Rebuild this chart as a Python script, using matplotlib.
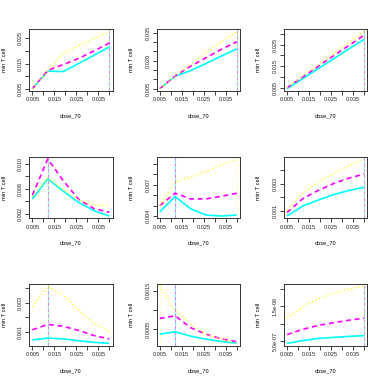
import matplotlib
matplotlib.use("Agg")
import matplotlib.pyplot as plt
import numpy as np

plt.rcParams['font.family'] = ['Liberation Sans', 'DejaVu Sans']

doses = [0.005, 0.012, 0.019, 0.026, 0.033, 0.040]
x_ticks = [0.005, 0.010, 0.015, 0.020, 0.025, 0.030, 0.035, 0.040]
x_tick_labels = ["0.005", "", "0.015", "", "0.025", "", "0.035", ""]

# panel data: solid cyan, dashed magenta, dotted yellow
p1_solid  = [0.0050, 0.0120, 0.0118, 0.0150, 0.0183, 0.0216]
p1_dashed = [0.0050, 0.0123, 0.0146, 0.0170, 0.0200, 0.0232]
p1_dotted = [0.0050, 0.0120, 0.0190, 0.0220, 0.0250, 0.0277]

p2_solid  = [0.0050, 0.0117, 0.0146, 0.0185, 0.0224, 0.0263]
p2_dashed = [0.0050, 0.0118, 0.0170, 0.0215, 0.0260, 0.0301]
p2_dotted = [0.0050, 0.0118, 0.0180, 0.0241, 0.0300, 0.0355]

p3_solid  = [0.0045, 0.0091, 0.0137, 0.0183, 0.0229, 0.0274]
p3_dashed = [0.0050, 0.0099, 0.0148, 0.0197, 0.0245, 0.0293]
p3_dotted = [0.0051, 0.0103, 0.0155, 0.0207, 0.0258, 0.0310]

p4_solid  = [0.00435, 0.0076, 0.0056, 0.0038, 0.00245, 0.0016]
p4_dashed = [0.00497, 0.0108, 0.0073, 0.0043, 0.0028, 0.0022]
p4_dotted = [0.0048, 0.0077, 0.0059, 0.0042, 0.0034, 0.0032]

p5_solid  = [0.0044, 0.00588, 0.0047, 0.0041, 0.0040, 0.0041]
p5_dashed = [0.0050, 0.0062, 0.00565, 0.00565, 0.0059, 0.0062]
p5_dotted = [0.0050, 0.0073, 0.0077, 0.0083, 0.0089, 0.0095]

p6_solid  = [0.00065, 0.00137, 0.0018, 0.0022, 0.0025, 0.00274]
p6_dashed = [0.0009, 0.0019, 0.0025, 0.0030, 0.0034, 0.0037]
p6_dotted = [0.00107, 0.0023, 0.0031, 0.0037, 0.0043, 0.0048]

p7_solid  = [0.00047, 0.00060, 0.00054, 0.00042, 0.00031, 0.00024]
p7_dashed = [0.00116, 0.00153, 0.00140, 0.00112, 0.00077, 0.00054]
p7_dotted = [0.00273, 0.00412, 0.00354, 0.00250, 0.00158, 0.00105]

p8_solid  = [0.00037, 0.00043, 0.00032, 0.00024, 0.00018, 0.00013]
p8_dashed = [0.00078, 0.00085, 0.00054, 0.00037, 0.00025, 0.00017]
p8_dotted = [0.00162, 0.00099, 0.00063, 0.00037, 0.00024, 0.00013]

p9_solid  = [4.4e-07, 5.2e-07, 5.8e-07, 6.1e-07, 6.4e-07, 6.6e-07]
p9_dashed = [6.9e-07, 8.4e-07, 9.5e-07, 1.03e-06, 1.10e-06, 1.16e-06]
p9_dotted = [1.16e-06, 1.48e-06, 1.70e-06, 1.87e-06, 1.99e-06, 2.07e-06]

# y ticks and labels per panel
p1_yticks = [0.005, 0.010, 0.015, 0.020, 0.025]
p1_ylabels = ["0.005", "", "0.015", "", "0.025"]
p2_yticks = [0.005, 0.010, 0.015, 0.020, 0.025, 0.030, 0.035]
p2_ylabels = ["0.005", "", "", "0.020", "", "", "0.035"]
p3_yticks = [0.005, 0.010, 0.015, 0.020, 0.025, 0.030]
p3_ylabels = ["0.005", "", "0.015", "", "0.025", ""]
p4_yticks = [0.002, 0.004, 0.006, 0.008, 0.010]
p4_ylabels = ["0.002", "", "0.006", "", "0.010"]
p5_yticks = [0.004, 0.005, 0.006, 0.007, 0.008, 0.009]
p5_ylabels = ["0.004", "", "", "0.007", "", ""]
p6_yticks = [0.001, 0.002, 0.003, 0.004]
p6_ylabels = ["0.001", "", "0.003", ""]
p7_yticks = [0.001, 0.002, 0.003, 0.004]
p7_ylabels = ["0.001", "", "0.003", ""]
p8_yticks = [0.0005, 0.0010, 0.0015]
p8_ylabels = ["0.0005", "", "0.0015"]
p9_yticks = [5e-07, 1e-06, 1.5e-06, 2e-06]
p9_ylabels = ["5.0e-07", "", "1.5e-06", ""]

panels = [
    (p1_solid, p1_dashed, p1_dotted, p1_yticks, p1_ylabels),
    (p2_solid, p2_dashed, p2_dotted, p2_yticks, p2_ylabels),
    (p3_solid, p3_dashed, p3_dotted, p3_yticks, p3_ylabels),
    (p4_solid, p4_dashed, p4_dotted, p4_yticks, p4_ylabels),
    (p5_solid, p5_dashed, p5_dotted, p5_yticks, p5_ylabels),
    (p6_solid, p6_dashed, p6_dotted, p6_yticks, p6_ylabels),
    (p7_solid, p7_dashed, p7_dotted, p7_yticks, p7_ylabels),
    (p8_solid, p8_dashed, p8_dotted, p8_yticks, p8_ylabels),
    (p9_solid, p9_dashed, p9_dotted, p9_yticks, p9_ylabels),
]

W = 382.0
DPI = 100
fig = plt.figure(figsize=(W / DPI, W / DPI), dpi=DPI)
cell = W / 3.0
FS = 4.1

styles = [
    dict(color='#00FFFF', ls='-', lw=1.2),
    dict(color='#FF00FF', ls=(0, (3, 2.2)), lw=1.2),
    dict(color='#FFFF00', ls=(0, (1, 2)), lw=0.9),
]

xmin, xmax = min(doses), max(doses)
xr = xmax - xmin

for i, (s, d, t, yt, yl) in enumerate(panels):
    r, c = divmod(i, 3)
    left_px = c * cell + 29.3
    right_px = c * cell + 112.5
    top_px = r * cell + 29.3
    bot_px = r * cell + 91.0
    ax = fig.add_axes([left_px / W, 1 - bot_px / W,
                       (right_px - left_px) / W, (bot_px - top_px) / W])
    series = [s, d, t]
    for ser, st in zip(series, styles):
        k = int(np.argmax(ser))
        ax.axvline(doses[k], color=st['color'], linestyle=st['ls'], lw=0.8,
                   alpha=0.45, zorder=1)
    for ser, st in zip(series, styles):
        ax.plot(doses, ser, color=st['color'], linestyle=st['ls'], lw=st['lw'],
                solid_capstyle='butt', dash_capstyle='butt', zorder=2)
    allv = np.concatenate([s, d, t])
    lo, hi = allv.min(), allv.max()
    rr = hi - lo
    ax.set_ylim(lo - 0.04 * rr, hi + 0.04 * rr)
    ax.set_xlim(xmin - 0.04 * xr, xmax + 0.04 * xr)
    ax.set_xticks(x_ticks)
    ax.set_xticklabels(x_tick_labels, fontsize=FS)
    ax.set_yticks(yt)
    ax.set_yticklabels(yl, fontsize=FS, rotation=90, va='center')
    ax.tick_params(direction='out', length=2.9, width=0.6, pad=1.6, colors='#222222')
    for sp in ax.spines.values():
        sp.set_linewidth(0.7)
        sp.set_color('#333333')
        sp.set_zorder(3)
    fig.text(left_px / W - 25 / W, 1 - (top_px + bot_px) / 2 / W, "min T cell",
             rotation=90, ha='center', va='center', fontsize=FS)
    fig.text((left_px + right_px) / 2 / W, 1 - (bot_px + 24.7) / W, "dose_70",
             ha='center', va='center', fontsize=FS)

fig.savefig("out.png", dpi=DPI)
